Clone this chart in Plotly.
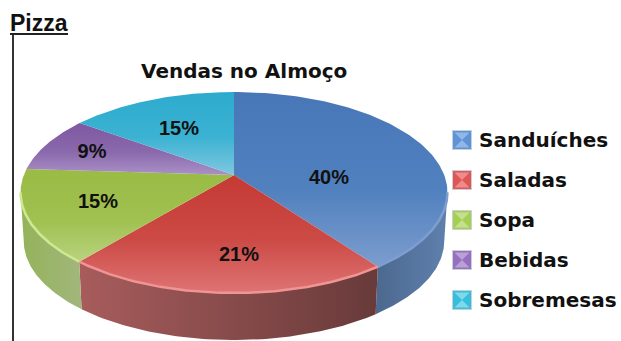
import numpy as np
import plotly.graph_objects as go

categories = ["Sanduíches", "Saladas", "Sopa", "Bebidas", "Sobremesas"]
values = [40, 21, 15, 9, 15]

top_colors = [("#4877B8", "#5080BE", "#7C9DCE"), ("#C53A34", "#CC4A45", "#DE7474"),
              ("#9ABB45", "#A0C050", "#B9D37F"), ("#7E58A2", "#8A68AC", "#A991C6"),
              ("#2CABCE", "#3CB2D2", "#80C8E0")]
side_colors = [("#4C688E", "#5F80AE"), ("#A85C5C", "#683A3A"), ("#94B35A", "#A2B67C"),
               ("#7E58A2", "#7E58A2"), ("#2CABCE", "#2CABCE")]
rim_colors = ["#7D9ECF", "#F09494", "#CFE892", "#A991C6", "#80C8E0"]
legend_colors = ["#5F93D6", "#DE5656", "#A5CF52", "#9570BE", "#36BEDC"]
legend_light = ["#8FB8E8", "#EE8C8C", "#C4E08E", "#BBA0D8", "#80D8EC"]

# layout (pixel space)
W, H = 621, 341
CX, CY, B, A, K = 234, 175, 210.2, 97.45, 0.1741
DEPTH, SCALE = 48.8, 0.985
VIS_START, VIS_END = 100, 260
label_pos = [(329, 179), (239, 256), (98, 203), (92, 153), (179, 130)]
legend_y = [140, 180, 220, 260, 300]
legend_text_y = [142, 182, 222, 262, 302]


def rim(theta_deg, depth=0.0, s=1.0):
    t = np.radians(theta_deg)
    d = 1 + K * np.cos(t)
    return CX + s * B * np.sin(t) / d, CY + depth - s * A * np.cos(t) / d


fig = go.Figure()
edges = np.concatenate([[0], np.cumsum(values)]) * 3.6
none = dict(showlegend=False, hoverinfo="skip")

# sides
for i in range(len(values)):
    a, b = max(edges[i], VIS_START), min(edges[i + 1], VIS_END)
    if b <= a:
        continue
    th = np.linspace(a, b, 80)
    x1, y1 = rim(th)
    x2, y2 = rim(th[::-1], DEPTH, SCALE)
    xs, ys = np.r_[x1, x2, x1[0]], np.r_[y1, y2, y1[0]]
    fig.add_trace(go.Scatter(
        x=xs, y=ys, mode="lines", line=dict(width=0), fill="toself",
        fillgradient=dict(type="horizontal", start=float(xs.min()), stop=float(xs.max()),
                          colorscale=[[0, side_colors[i][0]], [1, side_colors[i][1]]]),
        **none))

# top surface
for i in range(len(values)):
    th = np.linspace(edges[i], edges[i + 1], 120)
    x1, y1 = rim(th)
    xs, ys = np.r_[CX, x1, CX], np.r_[CY, y1, CY]
    fig.add_trace(go.Scatter(
        x=xs, y=ys, mode="lines", line=dict(width=0), fill="toself",
        fillgradient=dict(type="vertical", start=float(ys.min()), stop=float(ys.max()),
                          colorscale=[[0, top_colors[i][0]], [0.55, top_colors[i][1]],
                                      [1, top_colors[i][2]]]),
        **none))

# front rim highlight
for i in range(len(values)):
    a, b = max(edges[i], VIS_START), min(edges[i + 1], VIS_END)
    if b <= a:
        continue
    x1, y1 = rim(np.linspace(a, b, 80))
    fig.add_trace(go.Scatter(x=x1, y=y1, mode="lines",
                             line=dict(color=rim_colors[i], width=2.5), **none))

# percent labels
fig.add_trace(go.Scatter(
    x=[p[0] for p in label_pos], y=[p[1] for p in label_pos],
    mode="text", text=[f"{v}%" for v in values], textposition="middle center",
    textfont=dict(family="Liberation Sans", size=20, color="#111111", weight="bold"), **none))

# legend
LEG_X, LEG_TX = 462, 479
fig.add_trace(go.Scatter(
    x=[LEG_X] * 5, y=legend_y, mode="markers",
    marker=dict(symbol="square", size=19, color=legend_colors,
                line=dict(color="#C8D0D8", width=1)), **none))
fig.add_trace(go.Scatter(
    x=[LEG_X] * 5, y=legend_y, mode="markers",
    marker=dict(symbol="hourglass", size=15, color=legend_light, line=dict(width=0)), **none))
fig.add_trace(go.Scatter(
    x=[LEG_TX] * 5, y=legend_text_y, mode="text", text=categories, textposition="middle right",
    textfont=dict(family="DejaVu Sans", size=20, color="#111111", weight="bold"), **none))

fig.update_layout(
    width=W, height=H, margin=dict(l=0, r=0, t=0, b=0),
    paper_bgcolor="white", plot_bgcolor="white", showlegend=False,
    xaxis=dict(range=[0, W], visible=False, fixedrange=True),
    yaxis=dict(range=[H, 0], visible=False, fixedrange=True),
    shapes=[
        dict(type="line", x0=13, x1=13, y0=35, y1=H, line=dict(color="#333333", width=2)),
        dict(type="line", x0=10, x1=68, y0=34, y1=34, line=dict(color="#222222", width=2)),
    ],
    annotations=[
        dict(x=39, y=23, text="<b>Pizza</b>", showarrow=False,
             font=dict(family="Liberation Sans", size=23, color="#111111")),
        dict(x=244, y=71, text="<b>Vendas no Almoço</b>", showarrow=False,
             font=dict(family="DejaVu Sans", size=20, color="#111111")),
    ],
)
fig.write_html("out.html", config={"displayModeBar": False},
               post_script="document.body.style.margin='0';document.documentElement.style.overflow='hidden';")
